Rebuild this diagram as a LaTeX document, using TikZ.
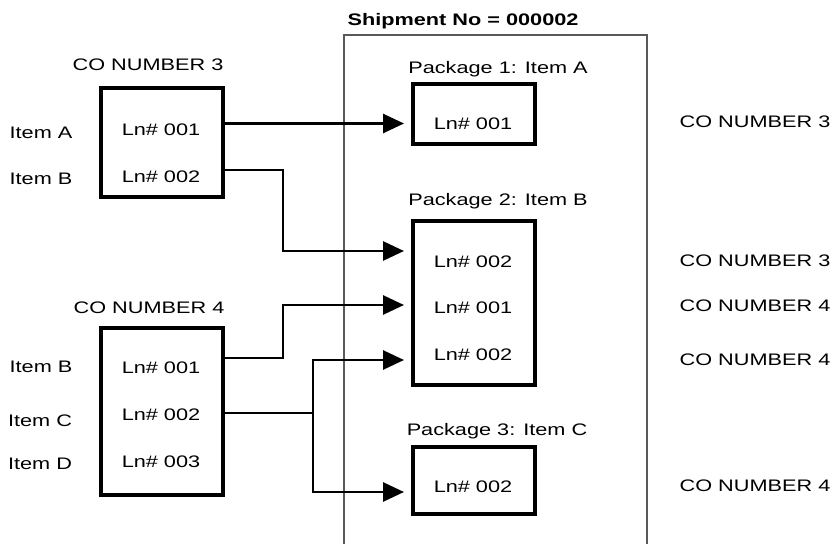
\documentclass[tikz,border=0pt]{standalone}
\usepackage{fontspec}
\setmainfont{Liberation Sans}[FakeStretch=1.3]
\usetikzlibrary{arrows.meta}

\begin{document}
\begin{tikzpicture}[x=0.02cm,y=-0.02cm,
  txt/.style={anchor=base,inner sep=0pt,font=\fontsize{9.5}{11}\selectfont},
  blk/.style={draw,line width=2.4pt,inner sep=0pt,minimum width=2.44cm},
  flow/.style={line width=1.6pt,-{Triangle[length=0.42cm,width=0.38cm]}}]
 \useasboundingbox (0,0) rectangle (835,544);

 % customer orders
 \node[blk,minimum height=2.18cm] (C3) at (162,142.5) {};
 \node[blk,minimum height=3.34cm] (C4) at (162,411.5) {};
 \node[txt] (C3t) at (148,71) {CO NUMBER 3};
 \node[txt] (C4t) at (149,313) {CO NUMBER 4};
 \node[txt] (C3i1) at (41,138) {Item A};
 \node[txt] (C3i2) at (41,184) {Item B};
 \node[txt] (C4i1) at (41,372) {Item B};
 \node[txt] (C4i2) at (40,426) {Item C};
 \node[txt] (C4i3) at (40,469) {Item D};
 \node[txt] (L31) at (161,135) {Ln\# 001};
 \node[txt] (L32) at (161,182) {Ln\# 002};
 \node[txt] (L41) at (161,373) {Ln\# 001};
 \node[txt] (L42) at (161,420) {Ln\# 002};
 \node[txt] (L43) at (161,467) {Ln\# 003};

 % shipment
 \draw[black!65,line width=0.6pt] (344,550) |- (647,35) -- (647,550);
 \node[txt,font=\fontsize{9.5}{11}\selectfont\bfseries] (S) at (463,26) {Shipment No = 000002};

 \node[blk,minimum height=1.2cm] (P1) at (474,114) {};
 \node[blk,minimum height=3.28cm] (P2) at (474,303) {};
 \node[blk,minimum height=1.34cm] (P3) at (474,480.5) {};
 \node[txt] (P1t) at (498,74) {Package 1: Item A};
 \node[txt] (P2t) at (498,205) {Package 2: Item B};
 \node[txt] (P3t) at (497,435) {Package 3: Item C};
 \node[txt] (Q11) at (473,130) {Ln\# 001};
 \node[txt] (Q21) at (473,267) {Ln\# 002};
 \node[txt] (Q22) at (473,313) {Ln\# 001};
 \node[txt] (Q23) at (473,360) {Ln\# 002};
 \node[txt] (Q31) at (473,492) {Ln\# 002};

 \node[txt] (R1) at (755,128) {CO NUMBER 3};
 \node[txt] (R2) at (755,266) {CO NUMBER 3};
 \node[txt] (R3) at (755,311) {CO NUMBER 4};
 \node[txt] (R4) at (755,365) {CO NUMBER 4};
 \node[txt] (R5) at (755,491) {CO NUMBER 4};

 % connectors
 \coordinate (J1) at (283,0);
 \coordinate (J2) at (313,0);
 \coordinate (C3b) at (223,170);
 \coordinate (C4a) at (223,358);
 \coordinate (C4b) at (223,413);
 \coordinate (P1a) at (404,123.5);
 \coordinate (P2a) at (404,251);
 \coordinate (P2b) at (404,305);
 \coordinate (P2c) at (404,360);
 \coordinate (P3a) at (404,492);

 \draw[flow] (C3.east |- P1a) -- (P1a);
 \draw[flow] (C3b) -| (J1 |- P2a) -- (P2a);
 \draw[flow] (C4a) -| (J1 |- P2b) -- (P2b);
 \draw[flow] (C4b) -| (J2 |- P2c) -- (P2c);
 \draw[flow] (J2 |- C4b) |- (P3a);
\end{tikzpicture}
\end{document}
